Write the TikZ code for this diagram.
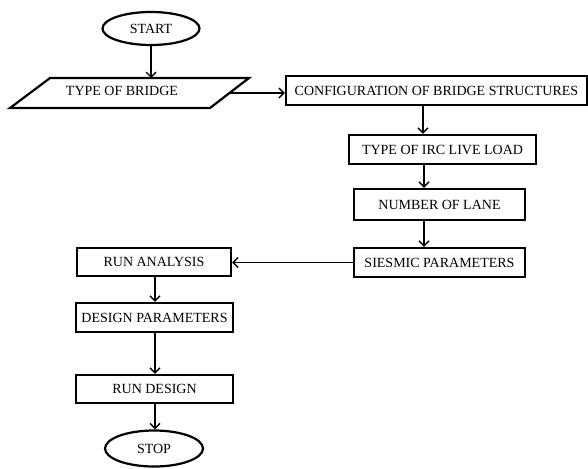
\documentclass[tikz,border=0pt]{standalone}
\usepackage{fontspec}
\setmainfont{Liberation Serif}
\usetikzlibrary{arrows.meta,shapes.geometric}
\begin{document}
\begin{tikzpicture}[x=1pt,y=-1pt,
  every node/.style={font=\fontsize{14}{16}\selectfont},
  procbox/.style={draw,line width=2.2pt,rectangle,inner sep=0pt,anchor=center},
  termnode/.style={draw,line width=2.2pt,ellipse,inner sep=0pt,anchor=center},
  flow/.style={line width=1.4pt,-{Straight Barb[length=5pt,width=10pt,line width=1.4pt]}}]
\useasboundingbox (0,0) rectangle (588,468);
\node[termnode,minimum width=97pt,minimum height=33pt] (start) at (151,28.5) {START};
\draw[line width=2.2pt,line join=miter] (50,78) -- (249,78) -- (210,108) -- (10,108) -- cycle;
\node (tob) at (122,91) {TYPE OF BRIDGE};
\coordinate (tobT) at (151,78);
\coordinate (tobR) at (229.5,93);
\node[procbox,minimum width=301pt,minimum height=29pt] (conf) at (436.5,90.5) {CONFIGURATION OF BRIDGE STRUCTURES};
\node[procbox,minimum width=187pt,minimum height=29pt] (irc) at (442.5,149.5) {TYPE OF IRC LIVE LOAD};
\node[procbox,minimum width=171pt,minimum height=31pt] (lane) at (439.5,204.5) {NUMBER OF LANE};
\node[procbox,minimum width=171pt,minimum height=29pt] (seis) at (439.5,262.5) {SIESMIC PARAMETERS};
\node[procbox,minimum width=154pt,minimum height=28pt] (ana) at (154,262) {RUN ANALYSIS};
\node[procbox,minimum width=157pt,minimum height=29pt] (dpar) at (154.5,317.5) {DESIGN PARAMETERS};
\node[procbox,minimum width=157pt,minimum height=28pt] (des) at (154.5,389) {RUN DESIGN};
\node[termnode,minimum width=98pt,minimum height=36pt] (stop) at (154,448.5) {STOP};
\draw[flow] (start.south) -- (tobT);
\draw[flow] (tobR) -- (tobR -| conf.west);
\draw[flow] (conf.south -| 423,0) -- (irc.north -| 423,0);
\draw[flow] (irc.south -| 424,0) -- (lane.north -| 424,0);
\draw[flow] (lane.south -| 424,0) -- (seis.north -| 424,0);
\draw[flow] (seis.west) -- (seis.west -| ana.east);
\draw[flow] (ana.south -| 155,0) -- (dpar.north -| 155,0);
\draw[flow] (dpar.south -| 155,0) -- (des.north -| 155,0);
\draw[flow] (des.south -| 155,0) -- (stop.north -| 155,0);
\end{tikzpicture}
\end{document}
